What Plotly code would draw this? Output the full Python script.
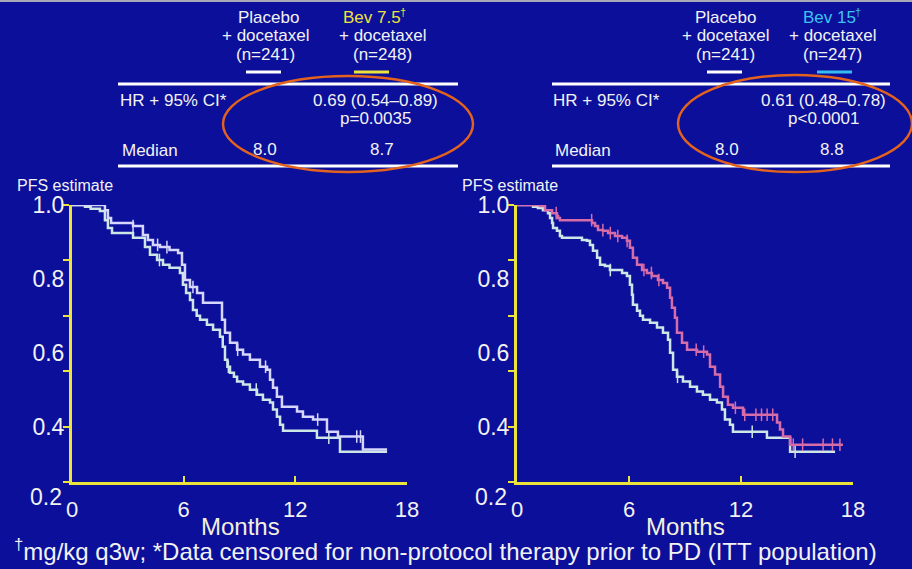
import numpy as np
import plotly.graph_objects as go

# ---------------- data ----------------
month_ticks = [0, 6, 12, 18]
y_label_vals = [0.4, 0.6, 0.8, 1.0]
y_label_text = ["0.4", "0.6", "0.8", "1.0"]
y_tick_marks = [0.25, 0.40, 0.55, 0.70, 0.85, 1.00]

# Left panel: placebo + docetaxel vs Bev 7.5 + docetaxel
left_placebo_t = [0.00, 0.70, 1.00, 1.50, 1.77, 1.93, 2.15, 3.28, 3.92, 4.19, 4.57, 4.89, 5.24, 5.80,
                  5.96, 6.13, 6.34, 6.50, 6.70, 6.88, 7.25, 7.58, 7.95, 8.10, 8.22, 8.35, 8.49, 8.70,
                  8.87, 9.19, 9.56, 9.94, 10.26, 10.64, 10.80, 11.01, 11.18, 11.34, 13.16, 14.40, 16.93]
left_placebo_s = [1.000, 0.995, 0.990, 0.984, 0.959, 0.938, 0.924, 0.911, 0.886, 0.865, 0.851, 0.838, 0.830, 0.816,
                  0.784, 0.762, 0.743, 0.716, 0.700, 0.689, 0.676, 0.662, 0.643, 0.616, 0.581, 0.562, 0.546, 0.535,
                  0.522, 0.514, 0.500, 0.486, 0.473, 0.465, 0.446, 0.427, 0.405, 0.389, 0.370, 0.332, 0.332]
left_placebo_cens = [4.7, 8.4, 9.9, 13.8]

left_bev_t = [0.00, 1.77, 1.93, 2.10, 3.28, 3.81, 4.08, 4.35, 4.73, 5.24, 5.70, 5.91, 6.07, 6.34, 6.72,
              7.04, 8.06, 8.22, 8.49, 8.87, 9.19, 9.56, 10.10, 10.48, 10.64, 10.80, 11.01, 11.28, 12.09,
              12.41, 12.95, 13.70, 14.29, 15.63, 16.93]
left_bev_s = [1.000, 0.986, 0.965, 0.951, 0.943, 0.919, 0.905, 0.892, 0.886, 0.878, 0.870, 0.838, 0.797, 0.778, 0.762,
              0.735, 0.689, 0.654, 0.627, 0.608, 0.595, 0.581, 0.562, 0.554, 0.527, 0.505, 0.481, 0.454, 0.441,
              0.427, 0.419, 0.386, 0.373, 0.338, 0.338]
left_bev_cens = [3.28, 4.6, 5.1, 6.5, 8.9, 10.4, 13.2, 15.3, 15.5]

# Right panel: placebo + docetaxel vs Bev 15 + docetaxel
right_placebo_t = [0.00, 0.86, 1.12, 1.39, 1.66, 1.77, 1.88, 1.93, 2.14, 2.30, 2.41, 3.48, 3.75, 3.91, 4.07,
                   4.29, 4.45, 4.71, 4.98, 5.63, 5.89, 6.05, 6.16, 6.21, 6.43, 6.59, 6.75, 7.13, 7.50, 7.82,
                   8.09, 8.20, 8.36, 8.57, 8.89, 9.27, 9.64, 9.96, 10.34, 10.71, 10.98, 11.14, 11.41, 11.57,
                   13.39, 14.63, 17.04]
right_placebo_s = [1.000, 0.995, 0.992, 0.986, 0.978, 0.965, 0.951, 0.938, 0.930, 0.916, 0.911, 0.905, 0.903, 0.892, 0.876,
                   0.857, 0.838, 0.835, 0.824, 0.816, 0.808, 0.784, 0.757, 0.730, 0.714, 0.700, 0.689, 0.681, 0.668, 0.654,
                   0.635, 0.600, 0.554, 0.535, 0.522, 0.508, 0.495, 0.486, 0.473, 0.465, 0.446, 0.419, 0.405, 0.386,
                   0.370, 0.332, 0.332]
right_placebo_cens = [5.0, 8.6, 12.6, 14.9]

right_bev_t = [0.00, 1.23, 1.50, 1.88, 2.14, 2.20, 2.30, 4.02, 4.18, 4.34, 4.61, 4.88, 5.25, 5.63, 5.89,
               6.05, 6.21, 6.43, 6.70, 6.96, 7.23, 7.55, 7.82, 8.04, 8.20, 8.30, 8.46, 8.57, 8.84, 9.11,
               9.64, 10.18, 10.34, 10.61, 10.88, 11.04, 11.30, 11.57, 12.11, 13.93, 14.09, 14.25, 14.63, 17.46]
right_bev_s = [1.000, 0.997, 0.986, 0.978, 0.970, 0.965, 0.959, 0.951, 0.943, 0.932, 0.930, 0.924, 0.916, 0.911, 0.903,
               0.884, 0.857, 0.838, 0.824, 0.816, 0.808, 0.797, 0.789, 0.776, 0.749, 0.722, 0.695, 0.654, 0.627, 0.608,
               0.603, 0.595, 0.562, 0.541, 0.508, 0.481, 0.459, 0.451, 0.432, 0.411, 0.392, 0.373, 0.351, 0.351]
right_bev_cens = [2.1, 4.0, 4.6, 5.0, 5.4, 5.9, 6.8, 7.2, 7.6, 9.6, 10.0, 11.7, 12.2, 12.8, 13.1, 13.4,
                  13.7, 14.8, 15.3, 16.4, 16.9, 17.3]

# ---------------- style ----------------
W, H = 912, 569
BG = "#0b0f9a"
YELLOW = "#ece43a"
CYAN = "#3cc4f2"
TXT = "#f2f2f2"
CREAM = "#f4efdc"
C_PLACEBO = "#cfe6e6"
C_BEV75 = "#d6d6ff"
C_BEV15 = "#d66ca8"
ORANGE = "#e2621e"
FONT = "Liberation Sans, Arial, sans-serif"


def px(x):
    return x / W


def py(y):
    return 1 - y / H


def step_value(t_list, s_list, t):
    idx = np.searchsorted(np.array(t_list), t, side="right") - 1
    return s_list[max(idx, 0)]


fig = go.Figure()


def add_km(t, s, cens, color, xa, ya):
    fig.add_trace(go.Scatter(x=t, y=s, mode="lines", line=dict(color=color, width=2.5, shape="hv"),
                             xaxis=xa, yaxis=ya, showlegend=False, cliponaxis=False, hoverinfo="skip"))
    cy = [step_value(t, s, c) for c in cens]
    fig.add_trace(go.Scatter(x=cens, y=cy, mode="markers",
                             marker=dict(symbol="line-ns", size=9, line=dict(color=color, width=1.5)),
                             xaxis=xa, yaxis=ya, showlegend=False, cliponaxis=False, hoverinfo="skip"))


add_km(left_placebo_t, left_placebo_s, left_placebo_cens, C_PLACEBO, "x", "y")
add_km(left_bev_t, left_bev_s, left_bev_cens, C_BEV75, "x", "y")
add_km(right_placebo_t, right_placebo_s, right_placebo_cens, C_PLACEBO, "x2", "y2")
add_km(right_bev_t, right_bev_s, right_bev_cens, C_BEV15, "x2", "y2")

xaxis_common = dict(range=[0, 18], tickvals=month_ticks, ticktext=[str(v) for v in month_ticks],
                    showgrid=False, zeroline=False, showline=True, linecolor=YELLOW, linewidth=3,
                    ticks="inside", ticklen=6, tickwidth=2, tickcolor=YELLOW, automargin=False,
                    tickfont=dict(family=FONT, size=22, color=TXT), ticklabelstandoff=6)
yaxis_common = dict(range=[0.25, 1.0], tickvals=y_label_vals, ticktext=y_label_text,
                    showgrid=False, zeroline=False, showline=True, linecolor=YELLOW, linewidth=3,
                    ticks="", tickfont=dict(family=FONT, size=23, color=TXT), automargin=False,
                    minor=dict(tickvals=y_tick_marks, ticks="outside", ticklen=6, tickwidth=2,
                               tickcolor=YELLOW, showgrid=False))

dom_y = [py(482), py(205)]
fig.update_layout(
    template="none",
    width=W, height=H, margin=dict(l=0, r=0, t=0, b=0, pad=0), autosize=False,
    paper_bgcolor=BG, plot_bgcolor=BG, showlegend=False,
    xaxis=dict(domain=[px(72), px(407)], anchor="y", **xaxis_common),
    yaxis=dict(domain=dom_y, anchor="x", **yaxis_common),
    xaxis2=dict(domain=[px(517), px(853)], anchor="y2", **xaxis_common),
    yaxis2=dict(domain=dom_y, anchor="x2", **yaxis_common),
)

ann = []
shapes = []


def text(x, y, s, size=17, color=TXT, xanchor="center"):
    ann.append(dict(x=px(x), y=py(y), xref="paper", yref="paper", text=s, showarrow=False,
                    xanchor=xanchor, yanchor="middle", font=dict(family=FONT, size=size, color=color)))


def hline(x0, x1, y, color, width):
    shapes.append(dict(type="line", xref="paper", yref="paper", x0=px(x0), x1=px(x1), y0=py(y), y1=py(y),
                       line=dict(color=color, width=width)))


# ---- left table ----
text(268, 17, "Placebo")
text(265, 36, "+ docetaxel")
text(265, 55, "(n=241)")
text(372, 17, "Bev 7.5", color=YELLOW)
text(398, 12, "†", size=11, color=YELLOW, xanchor="left")
text(382, 36, "+ docetaxel")
text(382, 55, "(n=248)")
hline(246, 281, 72, "#ffffff", 3)
hline(354, 389, 72, YELLOW, 3)
hline(118, 458, 84, "#ffffff", 3)
text(118, 101, "HR + 95% CI*", xanchor="left")
text(375, 101, "0.69 (0.54–0.89)")
text(375, 119, "p=0.0035")
text(120, 151, "Median", xanchor="left")
text(265, 149, "8.0")
text(382, 149, "8.7")
hline(118, 458, 166, "#ffffff", 3)
shapes.append(dict(type="circle", xref="paper", yref="paper", x0=px(223), x1=px(473), y0=py(172), y1=py(76),
                   line=dict(color=ORANGE, width=2.5)))

# ---- right table ----
text(725, 17, "Placebo")
text(725, 36, "+ docetaxel")
text(725, 55, "(n=241)")
text(829, 17, "Bev 15", color=CYAN)
text(853, 12, "†", size=11, color=CYAN, xanchor="left")
text(832, 36, "+ docetaxel")
text(832, 55, "(n=247)")
hline(707, 742, 72, "#ffffff", 3)
hline(817, 852, 72, "#36bdf0", 3)
hline(552, 890, 84, "#ffffff", 3)
text(551, 101, "HR + 95% CI*", xanchor="left")
text(823, 101, "0.61 (0.48–0.78)")
text(823, 119, "p<0.0001")
text(553, 151, "Median", xanchor="left")
text(727, 149, "8.0")
text(832, 149, "8.8")
hline(552, 890, 166, "#ffffff", 3)
shapes.append(dict(type="circle", xref="paper", yref="paper", x0=px(678), x1=px(912), y0=py(172), y1=py(75),
                   line=dict(color=ORANGE, width=2.5)))

# ---- axis captions ----
text(15, 186, "PFS estimate", size=16, xanchor="left")
text(460, 186, "PFS estimate", size=16, xanchor="left")
text(46, 497, "0.2", size=23)
text(491, 497, "0.2", size=23)
text(240, 526, "Months", size=24, color=CREAM)
text(685, 526, "Months", size=24, color=CREAM)
text(445, 550, "<sup>†</sup>mg/kg q3w; *Data censored for non-protocol therapy prior to PD (ITT population)",
     size=24, color=TXT)

hline(0, W, 1, "#a8a8b8", 2)

fig.update_layout(annotations=ann, shapes=shapes)
fig.write_html("out.html",
               config={"displayModeBar": False, "staticPlot": True},
               post_script="document.body.style.margin='0px';document.body.style.padding='0px';"
                           "document.body.style.overflow='hidden';")
